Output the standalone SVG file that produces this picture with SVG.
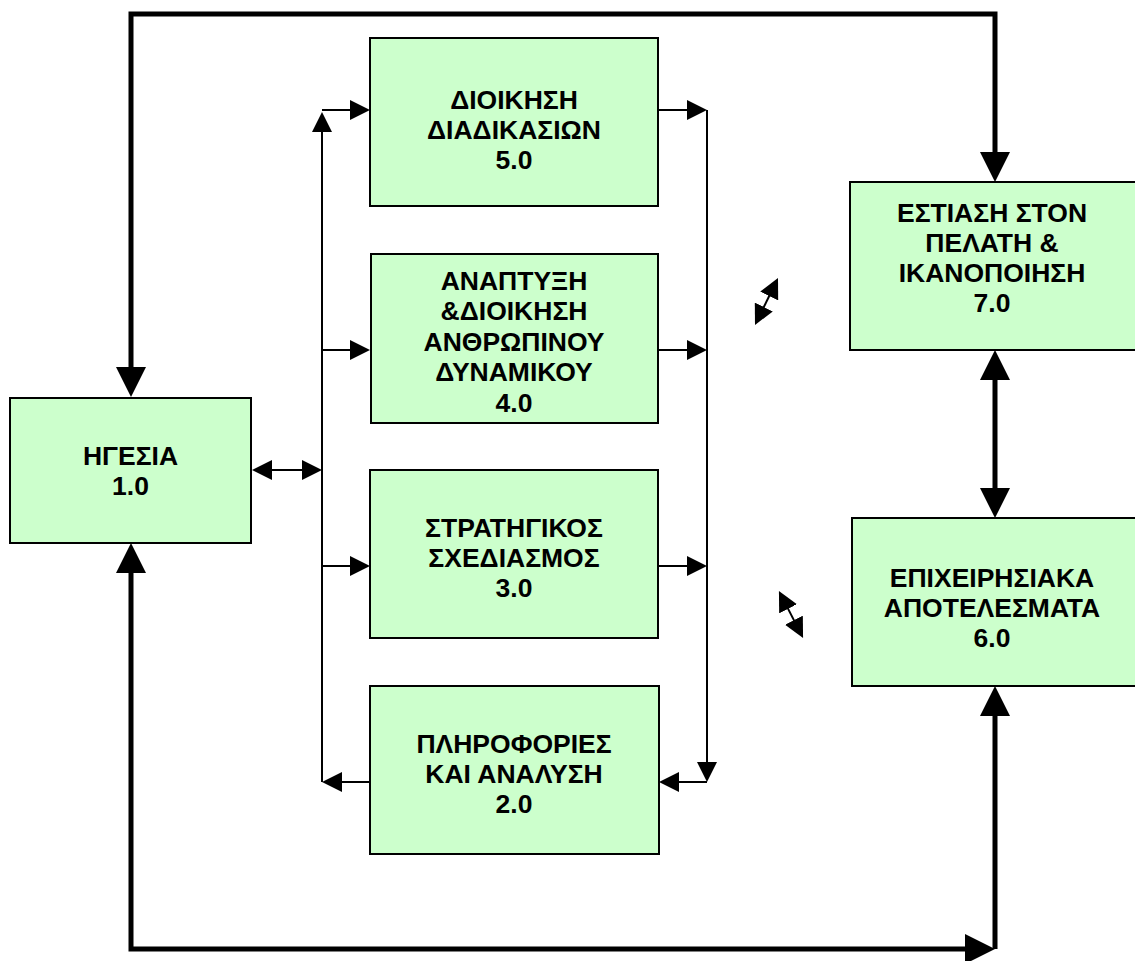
<svg xmlns="http://www.w3.org/2000/svg" width="1135" height="961" viewBox="0 0 1135 961">
  <style>
    .box { fill: #CCFFCC; stroke: #000; stroke-width: 2; }
    .lbl { font-family: "Liberation Sans", Arial, sans-serif; font-weight: bold; font-size: 26.5px; fill: #000; text-anchor: middle; }
    .thin { fill: none; stroke: #000; stroke-width: 2; }
    .thick { fill: none; stroke: #000; stroke-width: 5; stroke-linejoin: miter; }
  </style>
  <defs>
    <marker id="ah" viewBox="0 0 20 20" refX="10" refY="10" markerWidth="20" markerHeight="20" markerUnits="userSpaceOnUse" orient="auto-start-reverse">
      <path d="M0,0 L20,10 L0,20 z" fill="#000"/>
    </marker>
    <marker id="ahBig" viewBox="0 0 30 30" refX="15" refY="15" markerWidth="30" markerHeight="30" markerUnits="userSpaceOnUse" orient="auto-start-reverse">
      <path d="M0,0 L30,15 L0,30 z" fill="#000"/>
    </marker>
  </defs>

  <!-- connectors -->
  <g id="connectors">
    <!-- left distribution bus -->
    <path class="thin" d="M322,782 V122" marker-end="url(#ah)"/>
    <path class="thin" d="M322,110 H360" marker-end="url(#ah)"/>
    <path class="thin" d="M322,350 H360" marker-end="url(#ah)"/>
    <path class="thin" d="M322,566 H360" marker-end="url(#ah)"/>
    <path class="thin" d="M370,782 H332" marker-end="url(#ah)"/>
    <path class="thin" d="M262,470 H312" marker-start="url(#ah)" marker-end="url(#ah)"/>
    <!-- right collection bus -->
    <path class="thin" d="M658,110 H697" marker-end="url(#ah)"/>
    <path class="thin" d="M658,350 H697" marker-end="url(#ah)"/>
    <path class="thin" d="M658,566 H697" marker-end="url(#ah)"/>
    <path class="thin" d="M707,110 V772" marker-end="url(#ah)"/>
    <path class="thin" d="M707,782 H669" marker-end="url(#ah)"/>
    <!-- short two-way arrows -->
    <path class="thin" d="M759.4,316 L773.6,287" marker-start="url(#ah)" marker-end="url(#ah)"/>
    <path class="thin" d="M783.5,599.9 L798.5,629.1" marker-start="url(#ah)" marker-end="url(#ah)"/>
    <!-- outer feedback loops -->
    <path class="thick" d="M131,382 V14 H995 V167" marker-start="url(#ahBig)" marker-end="url(#ahBig)"/>
    <path class="thick" d="M131,558 V949 H980" marker-start="url(#ahBig)" marker-end="url(#ahBig)"/>
    <path class="thick" d="M995,949 V701" marker-end="url(#ahBig)"/>
    <path class="thick" d="M995,365 V503" marker-start="url(#ahBig)" marker-end="url(#ahBig)"/>
  </g>

  <g id="n1">
    <rect class="box" x="10" y="398" width="241" height="145"/>
    <text class="lbl" x="130.5" y="465">ΗΓΕΣΙΑ</text>
    <text class="lbl" x="130.5" y="495">1.0</text>
  </g>

  <g id="n5">
    <rect class="box" x="370" y="38" width="288" height="168"/>
    <text class="lbl" x="514" y="109">ΔΙΟΙΚΗΣΗ</text>
    <text class="lbl" x="514" y="139">ΔΙΑΔΙΚΑΣΙΩΝ</text>
    <text class="lbl" x="514" y="169">5.0</text>
  </g>

  <g id="n4">
    <rect class="box" x="371" y="254" width="287" height="169"/>
    <text class="lbl" x="514" y="290">ΑΝΑΠΤΥΞΗ</text>
    <text class="lbl" x="514" y="320">&amp;ΔΙΟΙΚΗΣΗ</text>
    <text class="lbl" x="514" y="351">ΑΝΘΡΩΠΙΝΟΥ</text>
    <text class="lbl" x="514" y="381">ΔΥΝΑΜΙΚΟΥ</text>
    <text class="lbl" x="514" y="412">4.0</text>
  </g>

  <g id="n3">
    <rect class="box" x="370" y="470" width="288" height="168"/>
    <text class="lbl" x="514" y="537">ΣΤΡΑΤΗΓΙΚΟΣ</text>
    <text class="lbl" x="514" y="567">ΣΧΕΔΙΑΣΜΟΣ</text>
    <text class="lbl" x="514" y="597">3.0</text>
  </g>

  <g id="n2">
    <rect class="box" x="370" y="686" width="289" height="168"/>
    <text class="lbl" x="514" y="753">ΠΛΗΡΟΦΟΡΙΕΣ</text>
    <text class="lbl" x="514" y="783">ΚΑΙ ΑΝΑΛΥΣΗ</text>
    <text class="lbl" x="514" y="813">2.0</text>
  </g>

  <g id="n7">
    <rect class="box" x="850" y="182" width="295" height="168"/>
    <text class="lbl" x="992" y="222">ΕΣΤΙΑΣΗ ΣΤΟΝ</text>
    <text class="lbl" x="992" y="252">ΠΕΛΑΤΗ &amp;</text>
    <text class="lbl" x="992" y="282">ΙΚΑΝΟΠΟΙΗΣΗ</text>
    <text class="lbl" x="992" y="312">7.0</text>
  </g>

  <g id="n6">
    <rect class="box" x="852" y="518" width="293" height="168"/>
    <text class="lbl" x="992" y="587">ΕΠΙΧΕΙΡΗΣΙΑΚΑ</text>
    <text class="lbl" x="992" y="617">ΑΠΟΤΕΛΕΣΜΑΤΑ</text>
    <text class="lbl" x="992" y="647">6.0</text>
  </g>
</svg>
